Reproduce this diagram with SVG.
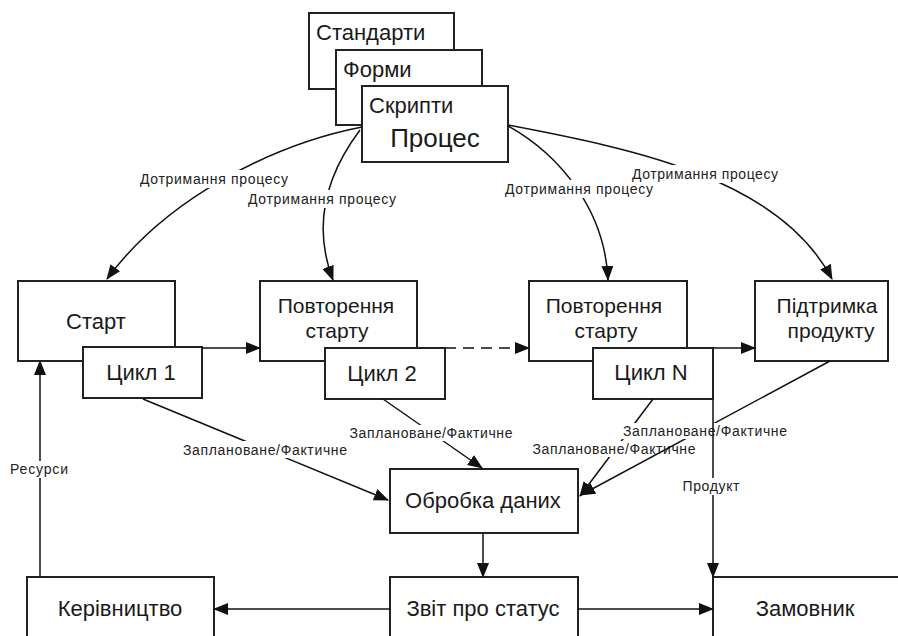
<svg xmlns="http://www.w3.org/2000/svg" width="898" height="636" viewBox="0 0 898 636">
<defs>
<marker id="arr" markerUnits="userSpaceOnUse" markerWidth="15" markerHeight="12" refX="14" refY="6" orient="auto">
<path d="M0,0 L15,6 L0,12 z" fill="#111"/>
</marker>
<style>
.box{fill:#fff;stroke:#222;stroke-width:2}
.t{font-family:"Liberation Sans",Arial,sans-serif;font-size:22px;fill:#1a1a1a;text-anchor:middle}
.t2{font-family:"Liberation Sans",Arial,sans-serif;font-size:21px;fill:#1a1a1a;text-anchor:middle}
.tl{font-family:"Liberation Sans",Arial,sans-serif;font-size:22px;fill:#1a1a1a}
.c{fill:none;stroke:#111;stroke-width:1.5}
.a{marker-end:url(#arr)}
.d{stroke-dasharray:11 7}
.lb{fill:#fff}
.s{font-family:"Liberation Sans",Arial,sans-serif;font-size:14px;fill:#222;text-anchor:middle}
</style>
</defs>
<rect width="898" height="636" fill="#fff"/>

<g id="standards"><rect class="box" x="309" y="13" width="145" height="76"/><text class="tl" x="316" y="40">Стандарти</text></g>
<g id="forms"><rect class="box" x="336" y="50" width="146" height="75"/><text class="tl" x="343" y="77">Форми</text></g>
<g id="process"><rect class="box" x="362" y="86" width="146" height="76"/><text class="tl" x="369" y="113">Скрипти</text><text class="t" x="435" y="147" style="font-size:26px">Процес</text></g>

<g id="start"><rect class="box" x="18" y="281" width="157" height="80"/><text class="t" x="96" y="329">Старт</text></g>
<g id="restart1"><rect class="box" x="260" y="281" width="157" height="80"/><text class="t2" x="336" y="313">Повторення</text><text class="t2" x="337" y="338">старту</text></g>
<g id="restart2"><rect class="box" x="529" y="281" width="158" height="80"/><text class="t2" x="604" y="313">Повторення</text><text class="t2" x="606" y="338">старту</text></g>
<g id="support"><rect class="box" x="755" y="281" width="133" height="80"/><text class="t2" x="827" y="313">Підтримка</text><text class="t2" x="831" y="338">продукту</text></g>

<g id="cycle1"><rect class="box" x="83" y="347" width="119" height="51"/><text class="t" x="141" y="380">Цикл 1</text></g>
<g id="cycle2"><rect class="box" x="325" y="348" width="120" height="51"/><text class="t" x="382" y="381">Цикл 2</text></g>
<g id="cycleN"><rect class="box" x="593" y="348" width="120" height="51"/><text class="t" x="651" y="380">Цикл N</text></g>

<g id="dataproc"><rect class="box" x="390" y="469" width="188" height="64"/><text class="t" x="483" y="508">Обробка даних</text></g>
<g id="status"><rect class="box" x="390" y="577" width="188" height="80"/><text class="t" x="483" y="616">Звіт про статус</text></g>
<g id="management"><rect class="box" x="27" y="577" width="187" height="80"/><text class="t" x="120" y="616">Керівництво</text></g>
<g id="customer"><rect class="box" x="713" y="577" width="200" height="80"/><text class="t" x="805" y="616">Замовник</text></g>

<g id="connectors">
<path class="c a" d="M362,127 C270,145 165,200 107,279"/>
<rect class="lb" x="139" y="170" width="151" height="18"/>
<text class="s" x="214" y="184" textLength="148">Дотримання процесу</text>

<path class="c a" d="M360,130 C330,170 310,220 333,280"/>
<rect class="lb" x="247" y="190" width="152" height="18"/>
<text class="s" x="322" y="204" textLength="148">Дотримання процесу</text>

<path class="c a" d="M508,126 C560,155 605,210 608,280"/>
<rect class="lb" x="504" y="180" width="151" height="18"/>
<text class="s" x="579" y="194" textLength="148">Дотримання процесу</text>

<path class="c a" d="M508,125 C640,150 780,180 832,279"/>
<rect class="lb" x="631" y="165" width="149" height="18"/>
<text class="s" x="705" y="179" textLength="146">Дотримання процесу</text>

<path class="c a" d="M202,348 L260,348"/>
<path class="c a d" d="M445,348 L529,348"/>
<path class="c a" d="M713,348 L755,348"/>

<path class="c a" d="M143,399 L388,500"/>
<rect class="lb" x="182" y="441" width="167" height="17"/>
<text class="s" x="265" y="455" textLength="164">Заплановане/Фактичне</text>

<path class="c a" d="M383,399 L482,468"/>
<rect class="lb" x="349" y="425" width="166" height="16"/>
<text class="s" x="431" y="438" textLength="163">Заплановане/Фактичне</text>

<path class="c a" d="M653,399 L580,496"/>
<rect class="lb" x="532" y="441" width="166" height="16"/>
<text class="s" x="614" y="454" textLength="163">Заплановане/Фактичне</text>

<path class="c a" d="M830,361 L581,495"/>
<rect class="lb" x="622" y="423" width="166" height="16"/>
<text class="s" x="705" y="436" textLength="164">Заплановане/Фактичне</text>

<path class="c a" d="M713,399 L713,577"/>
<rect class="lb" x="682" y="478" width="60" height="17"/>
<text class="s" x="711" y="491" textLength="57">Продукт</text>

<path class="c a" d="M40,577 L40,361"/>
<rect class="lb" x="9" y="461" width="61" height="17"/>
<text class="s" x="39" y="474" textLength="58">Ресурси</text>

<path class="c a" d="M483,533 L483,577"/>
<path class="c a" d="M390,609 L214,609"/>
<path class="c a" d="M578,609 L713,609"/>
</g>
</svg>
